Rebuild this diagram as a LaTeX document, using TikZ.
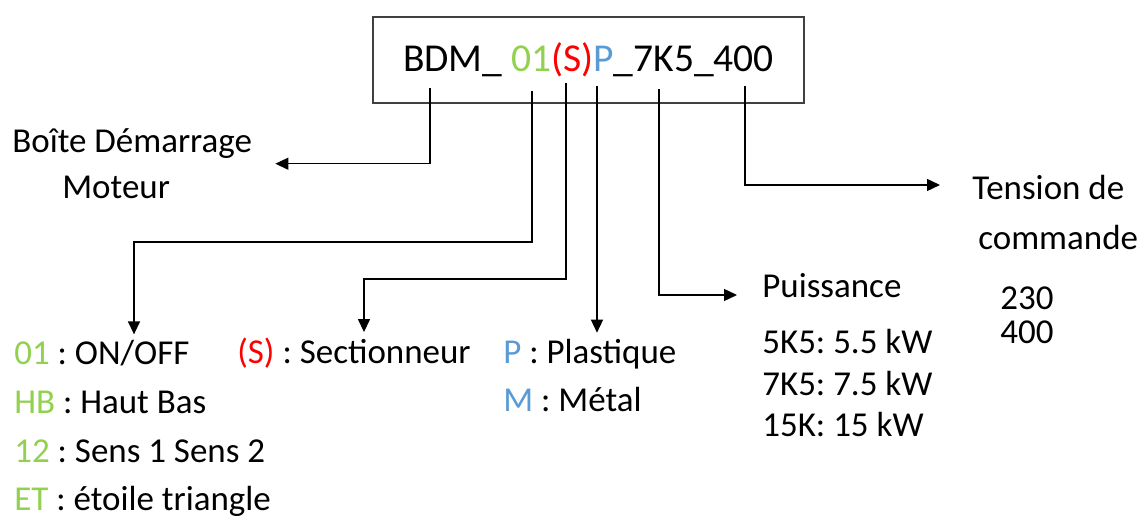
\documentclass[tikz,border=0pt]{standalone}
\usepackage{fontspec}
\setmainfont{Carlito}
\usetikzlibrary{arrows.meta,calc}
\definecolor{codegreen}{HTML}{92D050}
\definecolor{codered}{HTML}{FF0000}
\definecolor{codeblue}{HTML}{5B9BD5}
\frenchspacing

\begin{document}
\begin{tikzpicture}[
    x=0.02cm,y=-0.02cm,
    >={Triangle[length=0.26cm,width=0.24cm]},
    conn/.style={->,line width=0.8pt,black},
    lbl/.style={inner sep=0pt,anchor=base west,align=left,
      font=\fontsize{19.9}{27.7}\selectfont},
  ]
    \useasboundingbox (0,0) rectangle (1144,516);

    % code reference in its box
    \node[draw=black!75,line width=0.8pt,minimum width=8.62cm,minimum height=1.72cm,
      font=\fontsize{22.5}{27}\selectfont] (code) at (588.5,60)
      {BDM\_ \textcolor{codegreen}{01}\textcolor{codered}{(S)}\textcolor{codeblue}{P}\_7K5\_400};

    % where each field is picked up under the code
    \coordinate (sBDM) at (430,88);
    \coordinate (s01) at (532,91);
    \coordinate (sS) at (566,83);
    \coordinate (sP) at (597,86);
    \coordinate (sK) at (659,89);
    \coordinate (sV) at (745,86);

    \coordinate (b01) at (134,242);
    \coordinate (bS) at (364,279);
    \coordinate (bK) at (659,295);
    \coordinate (bV) at (745,185);

    % meanings (anchored on the baseline of their last line)
    \node[lbl,font=\fontsize{19.9}{26.7}\selectfont] (boite) at (12,199)
      {Boîte Démarrage\\\hspace*{1cm}Moteur};
    \node[lbl] (types) at (14,511)
      {\textcolor{codegreen}{01} : ON/OFF\\
       \textcolor{codegreen}{HB} : Haut Bas\\
       \textcolor{codegreen}{12} : Sens 1 Sens 2\\
       \textcolor{codegreen}{ET} : étoile triangle};
    \node[lbl] (sect) at (237,364) {\textcolor{codered}{(S)} : Sectionneur};
    \node[lbl] (matiere) at (503,412)
      {\textcolor{codeblue}{P} : Plastique\\\textcolor{codeblue}{M} : Métal};
    \node[lbl] (puiss) at (762,298) {Puissance};
    \node[lbl,font=\fontsize{19.9}{23.9}\selectfont] (calibres) at (762,437)
      {5K5: 5.5 kW\\7K5: 7.5 kW\\15K: 15 kW};
    \node[lbl,font=\fontsize{19.9}{29}\selectfont] (tension) at (972,250)
      {Tension de\\\hspace*{0.12cm}commande};
    \node[lbl,font=\fontsize{19.9}{19.4}\selectfont] (volts) at (1000,344)
      {230\\400};

    % connectors
    \draw[conn,shorten >=0.46cm] (sBDM) |- (boite.east);
    \draw[conn,shorten >=0.12cm] (s01) |- (b01) -- (b01 |- types.north);
    \draw[conn,shorten >=0.12cm] (sS) |- (bS) -- (bS |- sect.north);
    \draw[conn,shorten >=0.12cm] (sP) -- (sP |- matiere.north);
    \draw[conn,shorten >=0.5cm] (sK) -- (bK) -- (bK -| puiss.west);
    \draw[conn,shorten >=0.64cm] (sV) -- (bV) -- (bV -| tension.west);
  \end{tikzpicture}
\end{document}
